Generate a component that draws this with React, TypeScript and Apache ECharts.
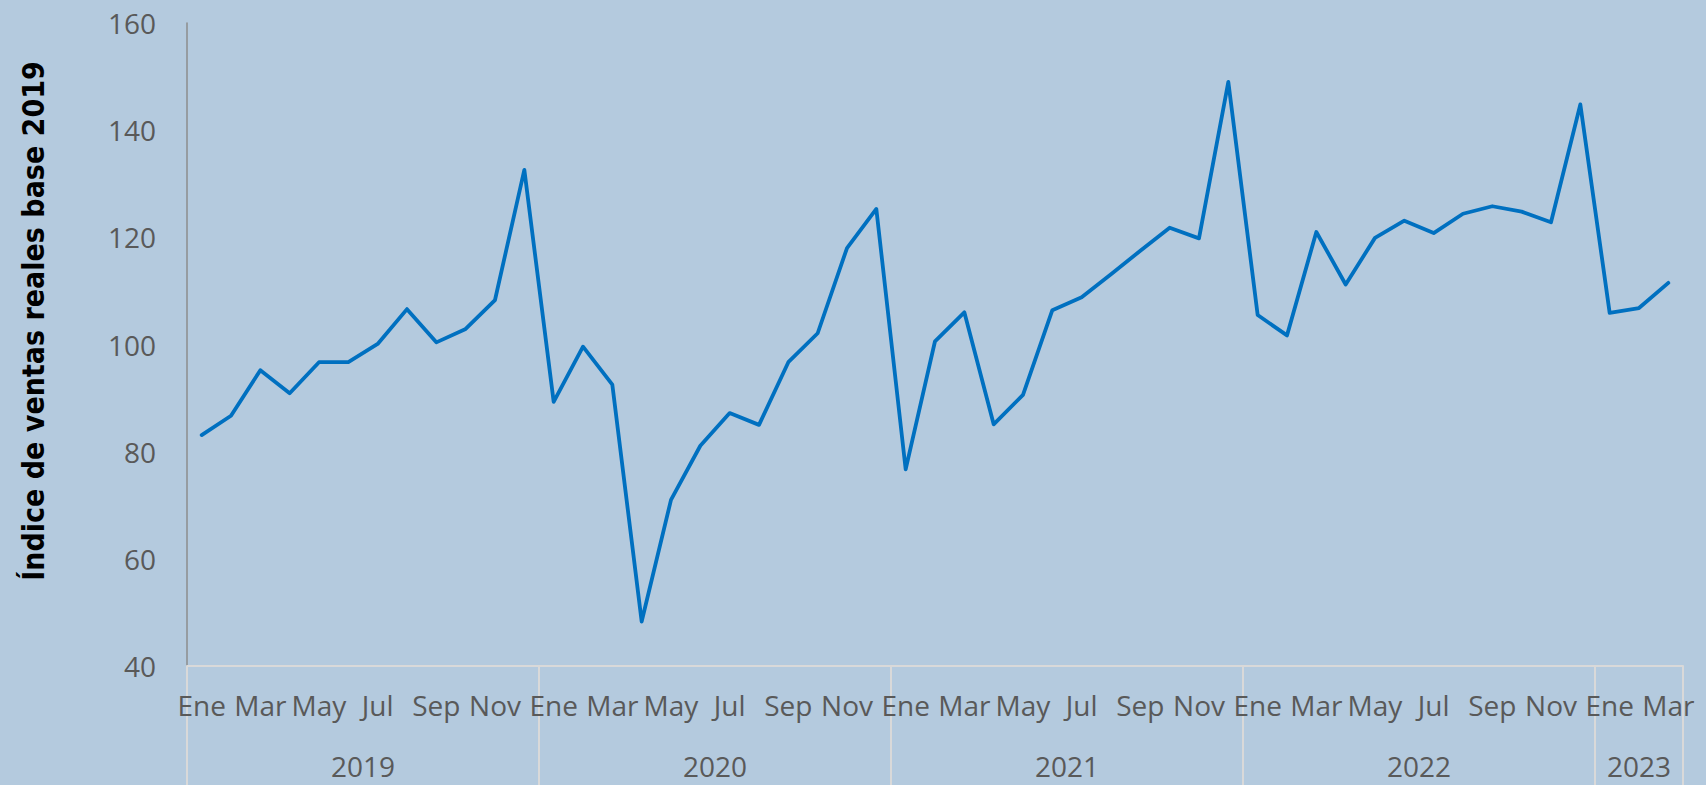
import React, { useEffect, useRef } from "react";
import * as echarts from "echarts";

// ---- data ----
const monthNames = ["Ene", "Feb", "Mar", "Abr", "May", "Jun", "Jul", "Ago", "Sep", "Oct", "Nov", "Dic"];
const years = ["2019", "2020", "2021", "2022", "2023"];
const monthsPerYear = [12, 12, 12, 12, 3];

const values2019 = [83.1, 86.7, 95.2, 90.9, 96.7, 96.7, 100.1, 106.6, 100.4, 102.9, 108.3, 132.6];
const values2020 = [89.3, 99.6, 92.5, 48.3, 71.0, 81.1, 87.2, 85.0, 96.7, 102.1, 118.0, 125.3];
const values2021 = [76.7, 100.6, 106.0, 85.1, 90.6, 106.4, 108.8, 113.1, 117.5, 121.8, 119.8, 149.0];
const values2022 = [105.5, 101.7, 121.0, 111.2, 119.9, 123.1, 120.8, 124.4, 125.8, 124.8, 122.8, 144.8];
const values2023 = [105.9, 106.8, 111.5];

const yTicks = { min: 40, max: 160, interval: 20 };
const yTitle = "Índice de ventas reales base 2019";

// ---- derived tables ----
const seriesValues = [...values2019, ...values2020, ...values2021, ...values2022, ...values2023];
const monthCategories: string[] = [];
years.forEach((y, yi) => {
  for (let m = 0; m < monthsPerYear[yi]; m++) monthCategories.push(monthNames[m]);
});
const totalMonths = monthCategories.length;

// half-month grid for the year level of the axis
const yearBoundaries: number[] = [];
const yearMids: Record<number, string> = {};
{
  let start = 0;
  years.forEach((y, yi) => {
    yearBoundaries.push(start * 2);
    yearMids[start * 2 + monthsPerYear[yi]] = y;
    start += monthsPerYear[yi];
  });
  yearBoundaries.push(start * 2);
}
const halfCategories: string[] = [];
for (let i = 0; i <= totalMonths * 2; i++) {
  halfCategories.push(yearMids[i] !== undefined ? yearMids[i] : "h" + i);
}

const FONT = "'Open Sans', 'Noto Sans', sans-serif";
const TEXT = "#595959";
const LIGHT = "#D9D9D9";

export default function App() {
  const ref = useRef<HTMLDivElement>(null);
  useEffect(() => {
    if (!ref.current) return;
    const chart = echarts.init(ref.current, undefined, { renderer: "svg" });
    chart.setOption({
      animation: false,
      backgroundColor: "#B4CADE",
      grid: { left: 187, right: 23, top: 23, bottom: 119, containLabel: false, outerBoundsMode: "none" },
      graphic: [
        {
          type: "text",
          x: 33,
          y: 321,
          rotation: Math.PI / 2,
          style: {
            text: yTitle,
            fill: "#000000",
            font: "bold 30px 'Liberation Sans Narrow', 'DejaVu Sans Condensed', sans-serif",
            align: "center",
            verticalAlign: "middle",
          },
        },
      ],
      xAxis: [
        {
          type: "category",
          data: monthCategories,
          boundaryGap: true,
          position: "bottom",
          axisLine: { show: true, lineStyle: { color: LIGHT, width: 2 } },
          axisTick: { show: false },
          axisLabel: {
            interval: 1,
            margin: 25,
            color: TEXT,
            fontFamily: FONT,
            fontSize: 28,
          },
          splitLine: { show: false },
        },
        {
          type: "category",
          data: halfCategories,
          boundaryGap: false,
          position: "bottom",
          axisLine: { show: false },
          axisTick: {
            show: true,
            length: 120,
            interval: (i: number) => yearBoundaries.includes(i),
            lineStyle: { color: LIGHT, width: 2 },
          },
          axisLabel: {
            interval: (i: number) => yearMids[i] !== undefined,
            formatter: (v: string) => (v.startsWith("h") ? "" : v),
            margin: 86,
            color: TEXT,
            fontFamily: FONT,
            fontSize: 28,
          },
          splitLine: { show: false },
        },
      ],
      yAxis: {
        type: "value",
        min: yTicks.min,
        max: yTicks.max,
        interval: yTicks.interval,
        axisLine: { show: true, lineStyle: { color: "#8C8C8C", width: 1.5 } },
        axisTick: { show: false },
        splitLine: { show: false },
        axisLabel: {
          margin: 31,
          color: TEXT,
          fontFamily: FONT,
          fontSize: 28,
        },
      },
      series: [
        {
          type: "line",
          xAxisIndex: 0,
          data: seriesValues,
          showSymbol: false,
          symbol: "none",
          lineStyle: { color: "#0070C0", width: 3.8, join: "round", cap: "round" },
          itemStyle: { color: "#0070C0" },
        },
      ],
    });
    return () => chart.dispose();
  }, []);
  return (
    <div
      ref={ref}
      style={{ position: "fixed", left: 0, top: 0, width: 1706, height: 785 }}
    />
  );
}
